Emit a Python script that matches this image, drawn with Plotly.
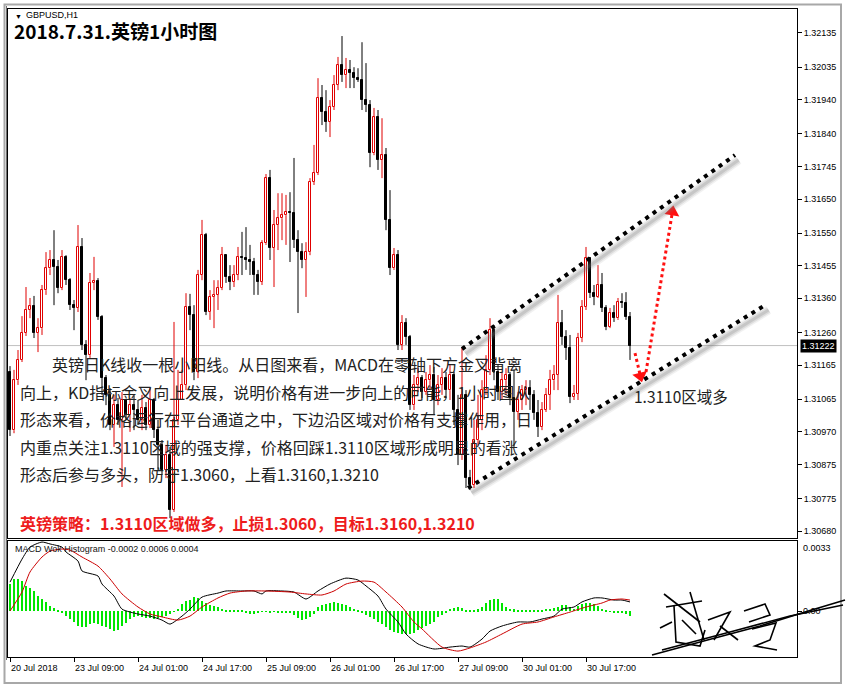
import plotly.graph_objects as go

W, H = 847, 688


def px(x):
    return x / W


def py(y):
    return 1 - y / H


# ---------------- data ----------------
symbol_label = "GBPUSD,H1"
chart_title = "2018.7.31.英镑1小时图"

tick_dates = ["20 Jul 2018", "23 Jul 09:00", "24 Jul 01:00", "24 Jul 17:00", "25 Jul 09:00",
              "26 Jul 01:00", "26 Jul 17:00", "27 Jul 09:00", "30 Jul 01:00", "30 Jul 17:00"]
tick_bar_index = [0, 16, 32, 48, 64, 80, 96, 112, 128, 144]

price_ticks = [1.32135, 1.32035, 1.31940, 1.31840, 1.31745, 1.31650, 1.31550, 1.31455,
               1.31360, 1.31260, 1.31165, 1.31065, 1.30970, 1.30875, 1.30775, 1.30680]
last_price = 1.31222

first_open = 1.31145
close = [
    1.30975, 1.31121, 1.31180, 1.31259, 1.31326, 1.31337, 1.31259, 1.31273, 1.31384, 1.31448,
    1.31472, 1.31451, 1.31390, 1.31481, 1.31413, 1.31340, 1.31332, 1.31510, 1.31224, 1.31194,
    1.31405, 1.31410, 1.31305, 1.31127, 1.31078, 1.30990, 1.31048, 1.31005, 1.31063, 1.31019,
    1.31048, 1.31034, 1.31005, 1.31040, 1.30990, 1.31063, 1.30975, 1.30932, 1.30859, 1.30902,
    1.30742, 1.31005, 1.31063, 1.31107, 1.31335, 1.31311, 1.31145, 1.31428, 1.31545, 1.31320,
    1.31364, 1.31370, 1.31390, 1.31486, 1.31422, 1.31408, 1.31428, 1.31481, 1.31478, 1.31472,
    1.31466, 1.31428, 1.31408, 1.31521, 1.31711, 1.31507, 1.31574, 1.31594, 1.31603, 1.31612,
    1.31609, 1.31530, 1.31495, 1.31472, 1.31495, 1.31700, 1.31726, 1.31945, 1.31904, 1.31875,
    1.31919, 1.31983, 1.32041, 1.32012, 1.32027, 1.32018, 1.32003, 1.31998, 1.31939, 1.31924,
    1.31784, 1.31889, 1.31764, 1.31778, 1.31589, 1.31448, 1.31486, 1.31224, 1.31288, 1.31247,
    1.31048, 1.31107, 1.31127, 1.31086, 1.31121, 1.31136, 1.31063, 1.31107, 1.31127, 1.31092,
    1.31136, 1.31034, 1.30902, 1.31078, 1.30835, 1.30815, 1.30946, 1.31005, 1.31092, 1.31151,
    1.31267, 1.31145, 1.31086, 1.31121, 1.31136, 1.31069, 1.31028, 1.31063, 1.31092, 1.31098,
    1.31078, 1.31025, 1.30984, 1.31034, 1.31078, 1.31121, 1.31136, 1.31288, 1.31247, 1.31215,
    1.31072, 1.31081, 1.31244, 1.31335, 1.31478, 1.31375, 1.31364, 1.31399, 1.31332, 1.31276,
    1.31317, 1.31302, 1.31349, 1.31346, 1.31305, 1.31222,
]
high = [
    1.31162, 1.31151, 1.31209, 1.31308, 1.31393, 1.31361, 1.31367, 1.31302, 1.31399, 1.31495,
    1.31501, 1.31559, 1.31472, 1.31501, 1.31486, 1.31419, 1.31355, 1.31574, 1.31536, 1.31238,
    1.31434, 1.31481, 1.31419, 1.31311, 1.31136, 1.31098, 1.31078, 1.31069, 1.31086, 1.31063,
    1.31069, 1.31078, 1.31063, 1.31078, 1.31057, 1.31098, 1.31069, 1.31005, 1.30946, 1.30932,
    1.30926, 1.31291, 1.31151, 1.31151, 1.31375, 1.31373, 1.31340, 1.31443, 1.31589, 1.31551,
    1.31384, 1.31413, 1.31413, 1.31510, 1.31486, 1.31457, 1.31457, 1.31510, 1.31554, 1.31568,
    1.31516, 1.31478, 1.31443, 1.31530, 1.31723, 1.31735, 1.31618, 1.31667, 1.31667, 1.31662,
    1.31670, 1.31770, 1.31559, 1.31521, 1.31524, 1.31711, 1.31808, 1.32003, 1.31983, 1.31968,
    1.31939, 1.32012, 1.32065, 1.32126, 1.32062, 1.32056, 1.32035, 1.32032, 1.32108, 1.32047,
    1.31939, 1.31916, 1.31910, 1.31886, 1.31799, 1.31676, 1.31507, 1.31501, 1.31311, 1.31302,
    1.31253, 1.31136, 1.31156, 1.31136, 1.31145, 1.31165, 1.31160, 1.31136, 1.31156, 1.31145,
    1.31165, 1.31145, 1.31078, 1.31215, 1.31092, 1.30859, 1.31005, 1.31078, 1.31121, 1.31194,
    1.31302, 1.31282, 1.31165, 1.31145, 1.31156, 1.31145, 1.31151, 1.31086, 1.31107, 1.31121,
    1.31121, 1.31092, 1.31063, 1.31057, 1.31098, 1.31151, 1.31165, 1.31370, 1.31326, 1.31267,
    1.31253, 1.31107, 1.31259, 1.31355, 1.31510, 1.31478, 1.31399, 1.31457, 1.31434, 1.31340,
    1.31332, 1.31340, 1.31361, 1.31375, 1.31378, 1.31320,
]
low = [
    1.30958, 1.30966, 1.31107, 1.31174, 1.31250, 1.31302, 1.31244, 1.31203, 1.31253, 1.31370,
    1.31428, 1.31340, 1.31375, 1.31384, 1.31399, 1.31326, 1.31267, 1.31320, 1.31209, 1.31121,
    1.31186, 1.31384, 1.31297, 1.31078, 1.31048, 1.30975, 1.30926, 1.30990, 1.30809, 1.31005,
    1.30970, 1.30975, 1.30990, 1.30975, 1.30975, 1.30981, 1.30952, 1.30859, 1.30844, 1.30835,
    1.30718, 1.30736, 1.30990, 1.31063, 1.31092, 1.31267, 1.31121, 1.31127, 1.31413, 1.31311,
    1.31297, 1.31273, 1.31326, 1.31384, 1.31405, 1.31384, 1.31393, 1.31413, 1.31428, 1.31443,
    1.31428, 1.31370, 1.31370, 1.31399, 1.31516, 1.31472, 1.31393, 1.31501, 1.31530, 1.31516,
    1.31466, 1.31507, 1.31317, 1.31448, 1.31364, 1.31486, 1.31691, 1.31720, 1.31866, 1.31846,
    1.31831, 1.31910, 1.31968, 1.31992, 1.31974, 1.31974, 1.31974, 1.31992, 1.31910, 1.31904,
    1.31743, 1.31778, 1.31735, 1.31711, 1.31559, 1.31428, 1.31443, 1.31209, 1.31209, 1.31224,
    1.31034, 1.31034, 1.31086, 1.31069, 1.31078, 1.31093, 1.31019, 1.31048, 1.31078, 1.31069,
    1.31063, 1.30990, 1.30873, 1.30888, 1.30806, 1.30800, 1.30806, 1.30932, 1.30975, 1.31078,
    1.31136, 1.31121, 1.31063, 1.31063, 1.31078, 1.31048, 1.30926, 1.31005, 1.31034, 1.31048,
    1.31034, 1.31005, 1.30955, 1.30975, 1.31028, 1.31034, 1.31092, 1.31092, 1.31224, 1.31180,
    1.31054, 1.31063, 1.31063, 1.31232, 1.31326, 1.31361, 1.31340, 1.31361, 1.31320, 1.31267,
    1.31273, 1.31291, 1.31297, 1.31332, 1.31297, 1.31180,
]

# MACD indicator values
macd_label = "MACD Wok Histogram -0.0002 0.0006 0.0004"
macd_axis_labels = ["0.0033", "0.00", "-0.0022"]
macd_axis_values = [0.0033, 0.0, -0.0022]
hist = [
    0.0013, 0.0015, 0.0015, 0.0014, 0.0012, 0.0011, 0.00095, 0.0007, 0.00058, 0.00043,
    0.00026, 0.00012, 0.00003, -0.0001, -0.00024, -0.0004, -0.00052, -0.0007, -0.00078, -0.00075,
    -0.00063, -0.00055, -0.0006, -0.0007, -0.00078, -0.00085, -0.00095, -0.0009, -0.0007, -0.00055,
    -0.0004, -0.00026, -0.00025, -0.0003, -0.00033, -0.00034, -0.0004, -0.00034, -0.0003, -0.00025,
    -0.00014, -0.00002, 0.0001, 0.00033, 0.00047, 0.0005, 0.00066, 0.0006, 0.00047, 0.00038,
    0.00028, 0.00024, 0.0002, 0.0001, 0.00003, 0.00003, 0.00002, 0.00003, 0.00002, -0.0001,
    -0.00014, -0.00012, -0.0001, -0.00004, -0.00003, -0.00005, -0.00003, -0.00006, -0.0001, -0.00008,
    -0.0001, -0.0002, -0.00033, -0.00043, -0.0004, -0.0003, -0.00015, 0.0002, 0.0003, 0.00035,
    0.0004, 0.00042, 0.0004, 0.00035, 0.0003, 0.0002, 0.0001, 0.00002, -0.0001, -0.0002,
    -0.0003, -0.0004, -0.0005, -0.0006, -0.00075, -0.0009, -0.001, -0.00105, -0.0011, -0.0011,
    -0.0011, -0.00105, -0.0009, -0.0008, -0.0007, -0.0006, -0.0005, -0.0003, -0.0002, -0.0001,
    0.0001, 0.00015, 0.0002, 0.00012, 0.00005, 0.00004, 0.00006, 0.00008, 0.0002, 0.0004,
    0.0005, 0.00055, 0.00055, 0.00038, 0.0002, 0.0001, 0.00008, 0.00005, 0.00002, 0.00003,
    0.00003, 0.00002, 0.00004, 0.00006, 0.0001, 0.0001, 0.00012, 0.0002, 0.00027, 0.0003,
    0.00018, 0.0001, 0.00025, 0.00032, 0.00038, 0.00038, 0.00032, 0.00025, 0.0001, 0.00002,
    -0.00002, -0.00006, -0.00006, -0.0001, -0.00014, -0.00025,
]
macd_idx = [0, 3, 5, 8, 10, 13, 14, 17, 18, 22, 23, 26, 28, 32, 35, 38, 40, 43, 45, 48,
            52, 54, 58, 61, 63, 64, 68, 71, 74, 77, 80, 84, 87, 89, 92, 94, 97, 99, 102, 106,
            110, 113, 115, 118, 120, 123, 127, 130, 133, 136, 138, 141, 143, 146, 148, 151, 153, 155]
macd_val = [0.00137, 0.00246, 0.00303, 0.00327, 0.00318, 0.00303, 0.00280, 0.00237, 0.00190, 0.00166,
            0.00128, 0.00071, 0.00009, -0.00014, -0.00024, -0.00043, -0.00062, -0.00024, 0.00009, 0.00066,
            0.00085, 0.00095, 0.00095, 0.00095, 0.00081, 0.00095, 0.00095, 0.00090, 0.00057, 0.00095,
            0.00128, 0.00156, 0.00147, 0.00119, 0.00071, 0.00009, -0.00052, -0.00109, -0.00156, -0.00180,
            -0.00171, -0.00166, -0.00171, -0.00133, -0.00095, -0.00071, -0.00052, -0.00052, -0.00038, -0.00024,
            0.00009, 0.00019, 0.00043, 0.00062, 0.00062, 0.00052, 0.00052, 0.00043]
signal_idx = [0, 3, 5, 8, 10, 13, 15, 18, 22, 25, 28, 32, 35, 38, 42, 45, 48, 52, 55, 59,
              64, 70, 74, 78, 81, 84, 88, 91, 94, 98, 101, 103, 108, 112, 115, 119, 123, 128, 132, 136,
              140, 144, 148, 150, 153, 155]
signal_val = [0.0, 0.00090, 0.00185, 0.00256, 0.00284, 0.00294, 0.00289, 0.00256, 0.00213, 0.00152,
              0.00081, 0.00019, -0.00014, -0.00028, -0.00043, -0.00024, 0.00019, 0.00062, 0.00085, 0.00095,
              0.00095, 0.00090, 0.00081, 0.00076, 0.00095, 0.00128, 0.00142, 0.00137, 0.00090, 0.00019,
              -0.00052, -0.00085, -0.00171, -0.00190, -0.00175, -0.00147, -0.00109, -0.00062, -0.00052, -0.00028,
              -0.00005, 0.00019, 0.00038, 0.00052, 0.00057, 0.00052]

# drawn objects (bar index, price)
channel_upper_x = [113, 181.25]
channel_upper_y = [1.31212, 1.31778]
channel_lower_x = [114.5, 188.75]
channel_lower_y = [1.30806, 1.31340]
arrow_down_tail = (156.25, 1.31200)
arrow_down_head = (157.6, 1.31133)
arrow_up_tail = (159.0, 1.31145)
arrow_up_head = (165.6, 1.31612)
support_label = "1.3110区域多"
support_label_pos = (155.5, 1.31076)

para_lines = [
    "　　英镑日K线收一根小阳线。从日图来看，MACD在零轴下方金叉背离",
    "向上，KD指标金叉向上发展，说明价格有进一步向上的可能，1小时图从",
    "形态来看，价格运行在平台通道之中，下边沿区域对价格有支撑作用，日",
    "内重点关注1.3110区域的强支撑，价格回踩1.3110区域形成明显的看涨",
    "形态后参与多头，防守1.3060，上看1.3160,1.3210",
]
strategy_line = "英镑策略：1.3110区域做多，止损1.3060，目标1.3160,1.3210"

# ---------------- styles ----------------
RED = "#e00000"
GREEN = "#00e600"
AXF = "Liberation Sans, Arial, sans-serif"
CJK = "Noto Sans CJK SC, sans-serif"

n = len(close)
opens = [first_open] + close[:-1]
idx = list(range(n))
up = [i for i in idx if close[i] >= opens[i]]
dn = [i for i in idx if close[i] < opens[i]]
MIN_BODY = 0.00002

fig = go.Figure()

# wicks
uwx, uwy, dwx, dwy = [], [], [], []
for i in up:
    top, bot = max(opens[i], close[i]), min(opens[i], close[i])
    uwx += [i, i, None, i, i, None]
    uwy += [high[i], top, None, bot, low[i], None]
for i in dn:
    dwx += [i, i, None]
    dwy += [high[i], low[i], None]
fig.add_trace(go.Scatter(x=uwx, y=uwy, mode="lines", line=dict(color=RED, width=1),
                         hoverinfo="skip", showlegend=False))
fig.add_trace(go.Scatter(x=dwx, y=dwy, mode="lines", line=dict(color="black", width=1),
                         hoverinfo="skip", showlegend=False))

# bodies
fig.add_trace(go.Bar(x=up, base=[opens[i] for i in up],
                     y=[max(close[i] - opens[i], MIN_BODY) for i in up], width=0.55,
                     marker=dict(color="white", line=dict(color=RED, width=1)), showlegend=False))
fig.add_trace(go.Bar(x=dn, base=[close[i] for i in dn],
                     y=[max(opens[i] - close[i], MIN_BODY) for i in dn], width=0.55,
                     marker=dict(color="black", line=dict(color="black", width=1)), showlegend=False))

# MACD panel
fig.add_trace(go.Bar(x=idx, y=hist, width=0.72, marker=dict(color=GREEN, line=dict(width=0)),
                     xaxis="x2", yaxis="y2", showlegend=False))
fig.add_trace(go.Scatter(x=macd_idx, y=macd_val, mode="lines",
                         line=dict(color="black", width=1, shape="spline", smoothing=0.6),
                         xaxis="x2", yaxis="y2", showlegend=False))
fig.add_trace(go.Scatter(x=signal_idx, y=signal_val, mode="lines",
                         line=dict(color="#cc0000", width=1, shape="spline", smoothing=0.6),
                         xaxis="x2", yaxis="y2", showlegend=False))

# arrow heads
fig.add_trace(go.Scatter(x=[arrow_down_head[0], arrow_up_head[0]], y=[arrow_down_head[1], arrow_up_head[1]],
                         mode="markers", marker=dict(symbol=["triangle-down", "triangle-up"], size=13,
                                                     angle=[-14, 9], color="#ff1010", line=dict(width=0)),
                         hoverinfo="skip", showlegend=False))

XR = [-0.5, 196.75]
shapes = []
# current price line
shapes.append(dict(type="line", xref="x", yref="y", x0=XR[0], x1=XR[1], y0=last_price, y1=last_price,
                   line=dict(color="#c0c0c0", width=1), layer="below"))
# channel shadows and dotted lines
for cx, cy in ((channel_upper_x, channel_upper_y), (channel_lower_x, channel_lower_y)):
    for w, a in ((9, 0.10), (6, 0.16), (3, 0.22)):
        shapes.append(dict(type="line", xref="x", yref="y", x0=cx[0] + 0.9, x1=cx[1] + 0.9,
                           y0=cy[0] - 0.00014, y1=cy[1] - 0.00014,
                           line=dict(color=f"rgba(120,120,120,{a})", width=w)))
    shapes.append(dict(type="line", xref="x", yref="y", x0=cx[0], x1=cx[1], y0=cy[0], y1=cy[1],
                       line=dict(color="black", width=4, dash="4px,5px")))
# red dotted arrows
for t, h in ((arrow_down_tail, arrow_down_head), (arrow_up_tail, arrow_up_head)):
    shapes.append(dict(type="line", xref="x", yref="y", x0=t[0], y0=t[1], x1=h[0], y1=h[1],
                       line=dict(color="#ff1010", width=3, dash="3px,3px")))
# window frame
shapes.append(dict(type="rect", xref="paper", yref="paper", x0=px(4.5), x1=px(841), y0=py(683), y1=py(4.5),
                   line=dict(color="#a8a8a8", width=2), layer="below"))
shapes.append(dict(type="line", xref="paper", yref="paper", x0=px(6.5), x1=px(6.5), y0=py(660), y1=py(6),
                   line=dict(color="#707070", width=1)))

# signature strokes (decoration)
sig_strokes = [
    [(664, 594), (700, 622)], [(666, 607), (702, 601)], [(674, 606), (676, 642), (700, 646), (705, 630)],
    [(682, 620), (696, 634)], [(690, 592), (704, 640)], [(660, 628), (672, 622)],
    [(708, 620), (730, 612), (714, 640)], [(720, 626), (738, 640)],
    [(744, 611), (765, 604), (770, 615), (749, 622)],
    [(752, 629), (776, 623), (770, 640), (755, 646), (777, 650)],
    [(652, 655), (700, 642), (760, 626), (805, 612), (845, 600)],
    [(662, 650), (730, 632), (790, 616), (843, 605)],
]
for s in sig_strokes:
    d = "M " + " L ".join(f"{px(a):.5f},{py(b):.5f}" for a, b in s)
    shapes.append(dict(type="path", xref="paper", yref="paper", path=d, line=dict(color="black", width=1.6)))

ann = []
ann.append(dict(x=px(13), y=py(16), xref="paper", yref="paper", text="▼", showarrow=False,
                xanchor="left", yanchor="middle", font=dict(size=7, color="black", family=AXF)))
ann.append(dict(x=px(24), y=py(15), xref="paper", yref="paper", text=symbol_label, showarrow=False,
                xanchor="left", yanchor="middle", font=dict(size=9, color="black", family=AXF)))
ann.append(dict(x=px(12), y=py(31), xref="paper", yref="paper", text=f"<b>{chart_title}</b>", showarrow=False,
                xanchor="left", yanchor="middle", font=dict(size=19, color="black", family=CJK)))
para_y = [364, 392, 419, 447, 474]
for line, yy in zip(para_lines, para_y):
    ann.append(dict(x=px(18), y=py(yy), xref="paper", yref="paper", text=line, showarrow=False,
                    xanchor="left", yanchor="middle", font=dict(size=16, color="#222222", family=CJK)))
ann.append(dict(x=px(18), y=py(523), xref="paper", yref="paper", text=f"<b>{strategy_line}</b>", showarrow=False,
                xanchor="left", yanchor="middle", font=dict(size=16, color="#ee1c1c", family=CJK)))
ann.append(dict(x=support_label_pos[0], y=support_label_pos[1], xref="x", yref="y", text=support_label,
                showarrow=False, xanchor="left", yanchor="middle", font=dict(size=15.5, color="#222222", family=CJK)))
ann.append(dict(x=px(13), y=py(549), xref="paper", yref="paper", text=macd_label, showarrow=False,
                xanchor="left", yanchor="middle", font=dict(size=9, color="#111111", family=AXF)))
for lab, ti in zip(tick_dates, tick_bar_index):
    ann.append(dict(x=ti - 0.3, y=py(668), xref="x2", yref="paper", text=lab, showarrow=False,
                    xanchor="left", yanchor="middle", font=dict(size=9, color="black", family=AXF)))
for lab, v, ya in zip(macd_axis_labels, macd_axis_values, ["top", "middle", "bottom"]):
    ann.append(dict(x=px(801), y=v, xref="paper", yref="y2", text=lab, showarrow=False,
                    xanchor="left", yanchor=ya, font=dict(size=9, color="black", family=AXF)))
ann.append(dict(x=px(800), y=last_price, xref="paper", yref="y", text=f"{last_price:.5f}", showarrow=False,
                xanchor="left", yanchor="middle", bgcolor="black", borderpad=1,
                font=dict(size=9, color="white", family=AXF)))

axis_common = dict(showline=True, mirror=True, linecolor="black", linewidth=1, showgrid=False, zeroline=False)

fig.update_layout(
    width=W, height=H, margin=dict(l=0, r=0, t=0, b=0),
    paper_bgcolor="white", plot_bgcolor="white", barmode="overlay", bargap=0,
    showlegend=False, shapes=shapes, annotations=ann,
    xaxis=dict(domain=[px(8), px(797)], range=XR, anchor="y", showticklabels=False, ticks="", **axis_common),
    yaxis=dict(domain=[py(538), py(9)], range=[1.30660, 1.32205], side="right", anchor="x",
               tickvals=price_ticks, ticktext=[f"{v:.5f}" for v in price_ticks], ticks="outside", ticklen=4,
               tickcolor="black", tickfont=dict(size=9, color="black", family=AXF), **axis_common),
    xaxis2=dict(domain=[px(8), px(797)], range=XR, anchor="y2", matches="x", tickvals=tick_bar_index,
                showticklabels=False, ticks="outside", ticklen=4, tickcolor="black", **axis_common),
    yaxis2=dict(domain=[py(657), py(541)], range=[-0.00218, 0.00332], side="right", anchor="x2",
                tickvals=[0, -0.0022], showticklabels=False, ticks="outside", ticklen=4, tickcolor="black",
                **axis_common),
)

fig.write_html("out.html", config={"displayModeBar": False},
               post_script="document.body.style.margin='0';document.body.style.overflow='hidden';")
